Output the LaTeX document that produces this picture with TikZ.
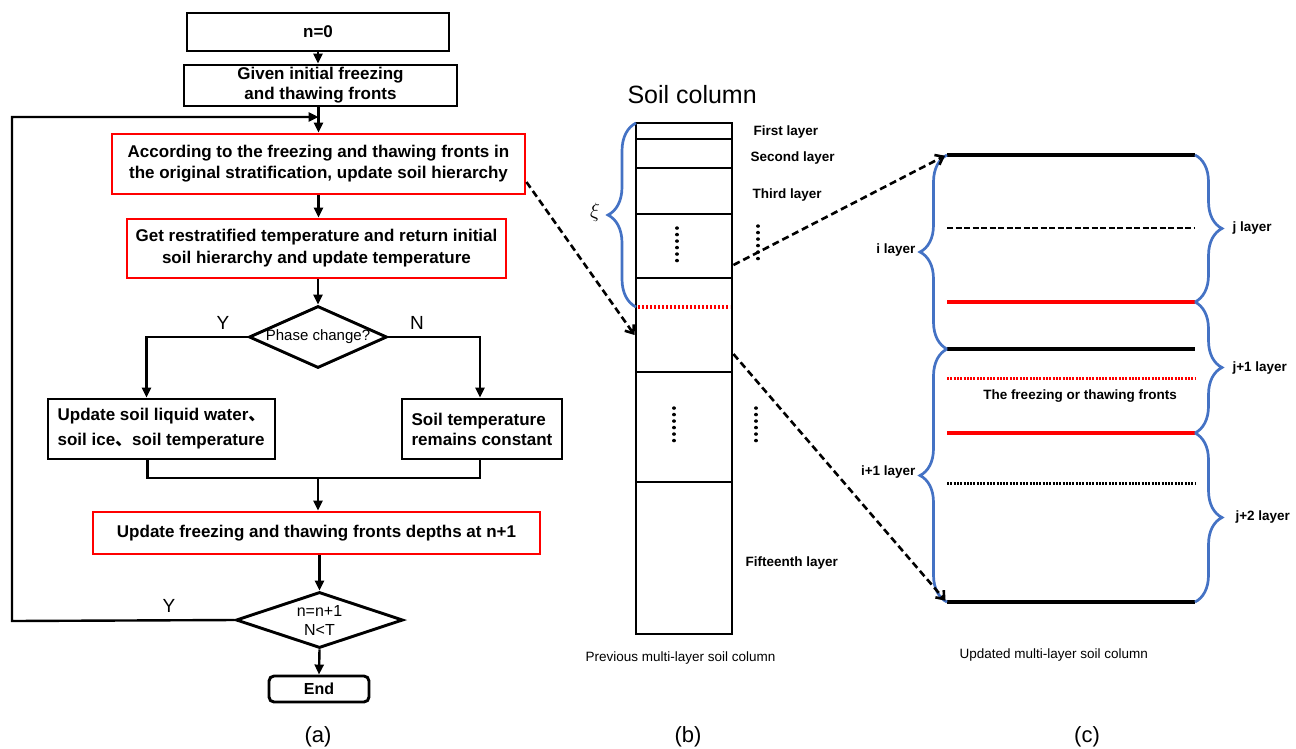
\documentclass[tikz,border=0pt]{standalone}
\usepackage{fontspec}
\setmainfont{Liberation Sans}
\newfontfamily\cjk{Noto Sans CJK SC}
\usetikzlibrary{shapes.geometric,arrows.meta,decorations.pathreplacing,calc}
\definecolor{braceblue}{HTML}{4472C4}
\definecolor{boxred}{HTML}{FF0000}
\begin{document}
\begin{tikzpicture}[x=1pt,y=-1pt,
  fb/.style={draw=black, line width=2.9pt, inner sep=0pt, align=center, font=\bfseries\fontsize{17}{#1}\selectfont},
  fb/.default=20,
  rb/.style={fb=#1, draw=boxred},
  rb/.default=21,
  conn/.style={line width=2.4pt, -{Triangle[length=10pt,width=9pt]}},
  plainline/.style={line width=2.4pt},
  dasharrow/.style={line width=2.6pt, dash pattern=on 7pt off 4pt, -{Straight Barb[length=7pt,width=11pt]}},
  bluebrace/.style={draw=braceblue, line width=2.7pt, decorate, decoration={brace, amplitude=#1, aspect=0.5}},
  layline/.style={line width=2.8pt},
  vdotline/.style={line width=3.4pt, line cap=round, dash pattern=on 0.1pt off 6.4pt},
  smalllab/.style={font=\bfseries\fontsize{13.5}{15}\selectfont},
  captext/.style={font=\fontsize{13.5}{15}\selectfont},
  ynlab/.style={font=\fontsize{19}{20}\selectfont},
  sublab/.style={font=\fontsize{22}{24}\selectfont}
]
\useasboundingbox (0,0) rectangle (1296,748);

% ---------------- (a) flowchart ----------------
\node[fb, minimum width=262, minimum height=38] (n0) at (318,32) {n=0};
\node[fb=20, minimum width=273, minimum height=41] (given) at (320.5,85.5) {Given initial freezing\\and thawing fronts};
\node[rb=21, minimum width=413, minimum height=60] (r1) at (318.5,164) {According to the freezing and thawing fronts in\\the original stratification, update soil hierarchy};
\node[rb=22, minimum width=379, minimum height=59] (r2) at (316.5,248.5) {Get restratified temperature and return initial\\soil hierarchy and update temperature};
\node[diamond, draw, line width=2.9pt, minimum width=138, minimum height=62, inner sep=0pt] (d1) at (318,337) {};
\node[font=\fontsize{15}{16}\selectfont] (d1t) at (d1) {Phase change?};
\node[fb=25, align=left, minimum width=227, minimum height=60] (lb) at (161.5,429) {Update soil liquid water{\cjk 、}\\soil ice{\cjk 、}soil temperature};
\node[fb=20, align=left, minimum width=160, minimum height=60] (rbx) at (482,429) {Soil temperature\\remains constant};
\node[rb, minimum width=447, minimum height=42] (r3) at (316.5,533) {Update freezing and thawing fronts depths at n+1};
\node[diamond, draw, line width=2.9pt, minimum width=167, minimum height=56, inner sep=0pt] (d2) at (319.5,620) {};
\node[align=center, font=\fontsize{16}{19}\selectfont] (d2t) at (d2) {n=n+1\\N<T};
\node[draw, line width=2.9pt, rounded corners=5pt, minimum width=100, minimum height=26, inner sep=0pt, font=\bfseries\fontsize{16}{18}\selectfont] (end) at (319,689) {End};

\coordinate (join) at (318.5,117);
\coordinate (merge) at (318,478);
\coordinate (lc) at (12,621);

\draw[conn] (n0.south) -- (n0.south |- given.north);
\draw[conn] (r1.north |- given.south) -- (r1.north);
\draw[conn] (r1.south) -- (r1.south |- r2.north);
\draw[conn] (r2.south -| d1.north) -- (d1.north);
\draw[conn] (d1.west) -| ([xshift=-15pt]lb.north);
\draw[conn] (d1.east) -| ([xshift=-2pt]rbx.north);
\draw[plainline] ([xshift=-14pt]lb.south) |- (merge) -| ([xshift=-2pt]rbx.south);
\draw[conn] (merge) -- (merge |- r3.north);
\draw[conn] (r3.south -| d2.north) -- (d2.north);
\draw[conn] (d2.south) -- (end.north);
\draw[conn] (d2.west) -- (lc) |- (join);

\node[ynlab] (ly1) at (223,323) {Y};
\node[ynlab] (ln1) at (417,323) {N};
\node[ynlab] (ly2) at (169,606) {Y};
\node[sublab] (la) at (318,737) {(a)};

% ---------------- (b) soil column ----------------
\node[font=\fontsize{25}{27}\selectfont, anchor=west] (title) at (624,95) {Soil column};
\node[draw, line width=2.9pt, minimum width=96, minimum height=511, inner sep=0pt] (col) at (684,378.5) {};
\draw[layline] (636,139) -- (732,139);
\draw[layline] (636,168) -- (732,168);
\draw[layline] (636,214) -- (732,214);
\draw[layline] (636,278) -- (732,278);
\draw[layline] (636,372) -- (732,372);
\draw[layline] (636,482) -- (732,482);
\draw[boxred, line width=3.2pt, dash pattern=on 2.2pt off 1.8pt] (638,307) -- (730,307);
\draw[vdotline] (677,228) -- (677,266);
\draw[vdotline] (758,226) -- (758,264);
\draw[vdotline] (674,408) -- (674,446);
\draw[vdotline] (756,408) -- (756,446);
\node[smalllab, anchor=west] (l1) at (750,132) {First layer};
\node[smalllab, anchor=west] (l2) at (747,158) {Second layer};
\node[smalllab, anchor=west] (l3) at (749,195) {Third layer};
\node[smalllab, anchor=west] (l15) at (742,563) {Fifteenth layer};
\draw[bluebrace=28pt] (636,307) -- (636,123);
\node[font=\fontsize{21}{22}\selectfont] (xi) at (595,212) {$\xi$};
\node[captext, anchor=west] (capb) at (582,658) {Previous multi-layer soil column};
\node[sublab] (lbb) at (688,737) {(b)};

% ---------------- (c) updated column ----------------
\node[minimum width=248, minimum height=447, inner sep=0pt] (upd) at (1071,378.5) {};
\draw[line width=3.6pt] (upd.north west) -- (upd.north east);
\draw[line width=2.6pt, dash pattern=on 6pt off 2.5pt] (947,228) -- (1195,228);
\draw[boxred, line width=4pt] (947,302) -- (1195,302);
\draw[line width=3.2pt] (947,349) -- (1195,349);
\draw[boxred, line width=3pt, dash pattern=on 2pt off 1.3pt] (947,378) -- (1195,378);
\draw[boxred, line width=4pt] (947,433) -- (1195,433);
\draw[line width=3pt, dash pattern=on 2pt off 1.3pt] (947,483) -- (1195,483);
\draw[line width=3.6pt] (upd.south west) -- (upd.south east);
\node[smalllab] (front) at (1080,396) {The freezing or thawing fronts};

\draw[bluebrace=27pt] (947,349) -- (947,155);
\draw[bluebrace=27pt] (947,602) -- (947,349);
\draw[bluebrace=27pt] (1195,155) -- (1195,302);
\draw[bluebrace=27pt] (1195,302) -- (1195,433);
\draw[bluebrace=27pt] (1195,433) -- (1195,602);
\node[smalllab, anchor=east] (li) at (919,250) {i layer};
\node[smalllab, anchor=east] (li1) at (919,472) {i+1 layer};
\node[smalllab, anchor=west] (lj) at (1229,228) {j layer};
\node[smalllab, anchor=west] (lj1) at (1229,368) {j+1 layer};
\node[smalllab, anchor=west] (lj2) at (1232,517) {j+2 layer};
\node[captext, anchor=west] (capc) at (956,655) {Updated multi-layer soil column};
\node[sublab] (lcc) at (1087,737) {(c)};

% ---------------- dashed connectors ----------------
\draw[dasharrow] ([yshift=-18pt]r1.east) -- ([yshift=43.5pt]col.west);
\draw[dasharrow, shorten >=2pt] ([yshift=113.5pt]col.east) -- (upd.north west);
\draw[dasharrow, shorten >=2pt] ([yshift=24.5pt]col.east) -- (upd.south west);
\end{tikzpicture}
\end{document}
